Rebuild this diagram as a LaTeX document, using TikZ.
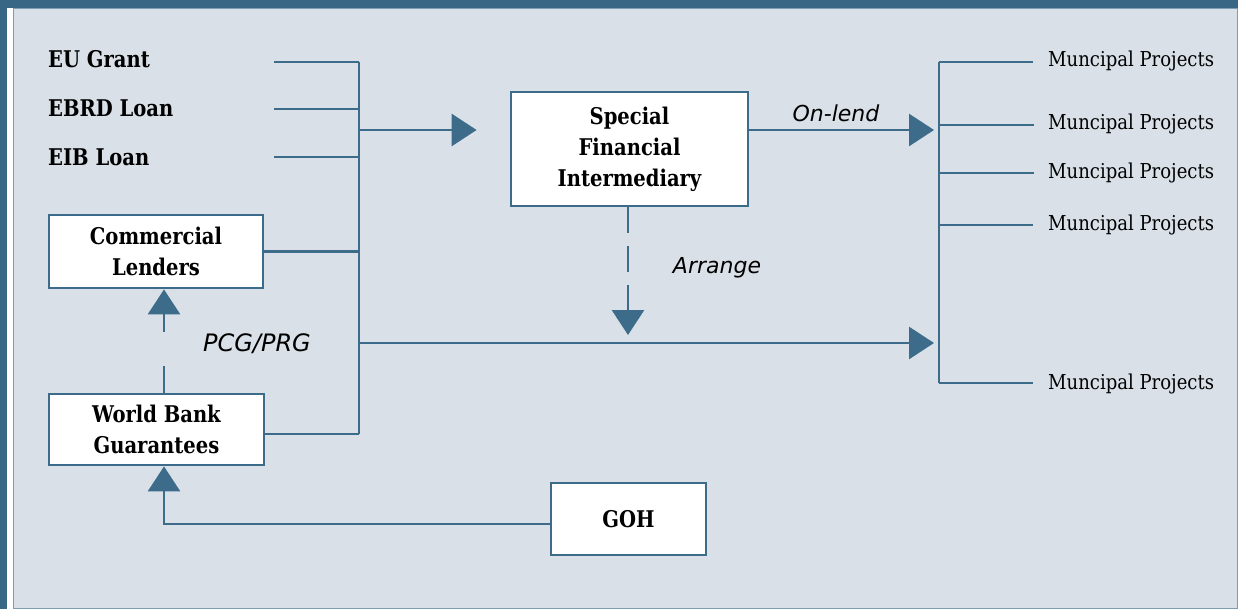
\documentclass[tikz,border=0pt]{standalone}
\usepackage{fontspec}
\usetikzlibrary{arrows.meta}
\newfontfamily\sfont[FakeStretch=0.85]{DejaVu Serif}
\newfontfamily\pfont[FakeStretch=0.88]{DejaVu Serif}
\newfontfamily\ifont{DejaVu Sans}
\definecolor{framedark}{HTML}{386785}
\definecolor{bgc}{HTML}{D9E0E7}
\definecolor{linec}{HTML}{3D6B8A}
\definecolor{thinc}{HTML}{7D9DB2}
\tikzset{
  lbl/.style={font=\sfont\bfseries\fontsize{23}{31}\selectfont, inner sep=0pt, text=black},
  box/.style={draw=linec, line width=2.8pt, fill=white, align=center, inner sep=0pt,
              font=\sfont\bfseries\fontsize{23}{31}\selectfont},
  proj/.style={font=\pfont\fontsize{20.5}{24}\selectfont, inner sep=0pt},
  ital/.style={font=\ifont\itshape\fontsize{22}{26}\selectfont, inner sep=0pt},
  conn/.style={draw=linec, line width=2.8pt},
  arr/.style={conn, -{Triangle[length=25pt,width=32pt]}}
}
\begin{document}
\begin{tikzpicture}[x=1pt,y=-1pt]
\useasboundingbox (0,0) rectangle (1238,609);
% frame
\fill[framedark] (0,0) rectangle (1238,8);
\fill[framedark] (0,0) rectangle (7,609);
\fill[white] (7,8) rectangle (13,609);
\draw[fill=bgc, draw=thinc, line width=1.2pt] (13.6,8.6) rectangle (1237.2,608.2);

% source labels
\node[lbl, anchor=base west] (eu) at (48,68) {EU Grant};
\node[lbl, anchor=base west] (ebrd) at (48,117) {EBRD Loan};
\node[lbl, anchor=base west] (eib) at (48,166) {EIB Loan};

% boxes
\node[box, minimum width=237pt, minimum height=114pt] (sfi) at (629.5,149) {Special\\Financial\\Intermediary};
\node[box, minimum width=214pt, minimum height=73pt] (cl) at (156,251.5) {Commercial\\Lenders};
\node[box, minimum width=215pt, minimum height=71pt] (wbg) at (156.5,429.5) {World Bank\\Guarantees};
\node[box, minimum width=155pt, minimum height=72pt] (goh) at (628.5,519) {GOH};

% project labels
\node[proj, anchor=base west] (p1) at (1048,67) {Muncipal Projects};
\node[proj, anchor=base west] (p2) at (1048,130) {Muncipal Projects};
\node[proj, anchor=base west] (p3) at (1048,179) {Muncipal Projects};
\node[proj, anchor=base west] (p4) at (1048,231) {Muncipal Projects};
\node[proj, anchor=base west] (p5) at (1048,389) {Muncipal Projects};

% connector labels
\node[ital, anchor=base] (onlend) at (836,122) {On-lend};
\node[ital, anchor=base] (arrange) at (717,274) {Arrange};
\node[ital, anchor=base, font=\ifont\itshape\fontsize{24}{26}\selectfont] (pcg) at (257,351) {PCG/PRG};

% coordinates
\coordinate (s1) at (274,62);
\coordinate (s2) at (274,109);
\coordinate (s3) at (274,157);
\coordinate (btop) at (359,62);
\coordinate (bbot) at (359,434);
\coordinate (j1) at (359,130);
\coordinate (j2) at (359,343);
\coordinate (rtop) at (939,62);
\coordinate (rbot) at (939,383);
\coordinate (yw) at (0,434);
\coordinate (yg) at (0,524);
\coordinate (xg) at (164,0);

% left bus
\draw[conn] (s1) -- (s1 -| btop);
\draw[conn] (s2) -- (s2 -| btop);
\draw[conn] (s3) -- (s3 -| btop);
\draw[conn] (btop) -- (bbot);
\draw[conn] (cl.east) -- (cl.east -| btop);
\draw[conn] (wbg.east |- yw) -- (bbot);

% arrows into SFI and to projects
\draw[arr] (j1) -- ([xshift=-33pt]sfi.west |- j1);
\draw[arr] (sfi.east |- j1) -- ([xshift=-5pt]rtop |- j1);
\draw[arr] (j2) -- ([xshift=-5pt]rtop |- j2);
\draw[arr, dash pattern=on 26pt off 13pt] ([xshift=-1.5pt]sfi.south) -- ([xshift=-1.5pt,yshift=8pt]sfi.south |- j2);

% right bus
\draw[conn] (rtop) -- (rbot);
\draw[conn] (rtop) -- (rtop -| 1033,0);
\draw[conn] (rtop |- 0,125) -- (1034,125);
\draw[conn] (rtop |- 0,173) -- (1034,173);
\draw[conn] (rtop |- 0,225) -- (1033,225);
\draw[conn] (rbot) -- (rbot -| 1033,0);

% guarantees
\draw[arr, dash pattern=on 27pt off 34pt] (wbg.north -| xg) -- (cl.south -| xg);
\draw[arr] (goh.west |- yg) -- (xg |- yg) -- (wbg.south -| xg);
\end{tikzpicture}
\end{document}
